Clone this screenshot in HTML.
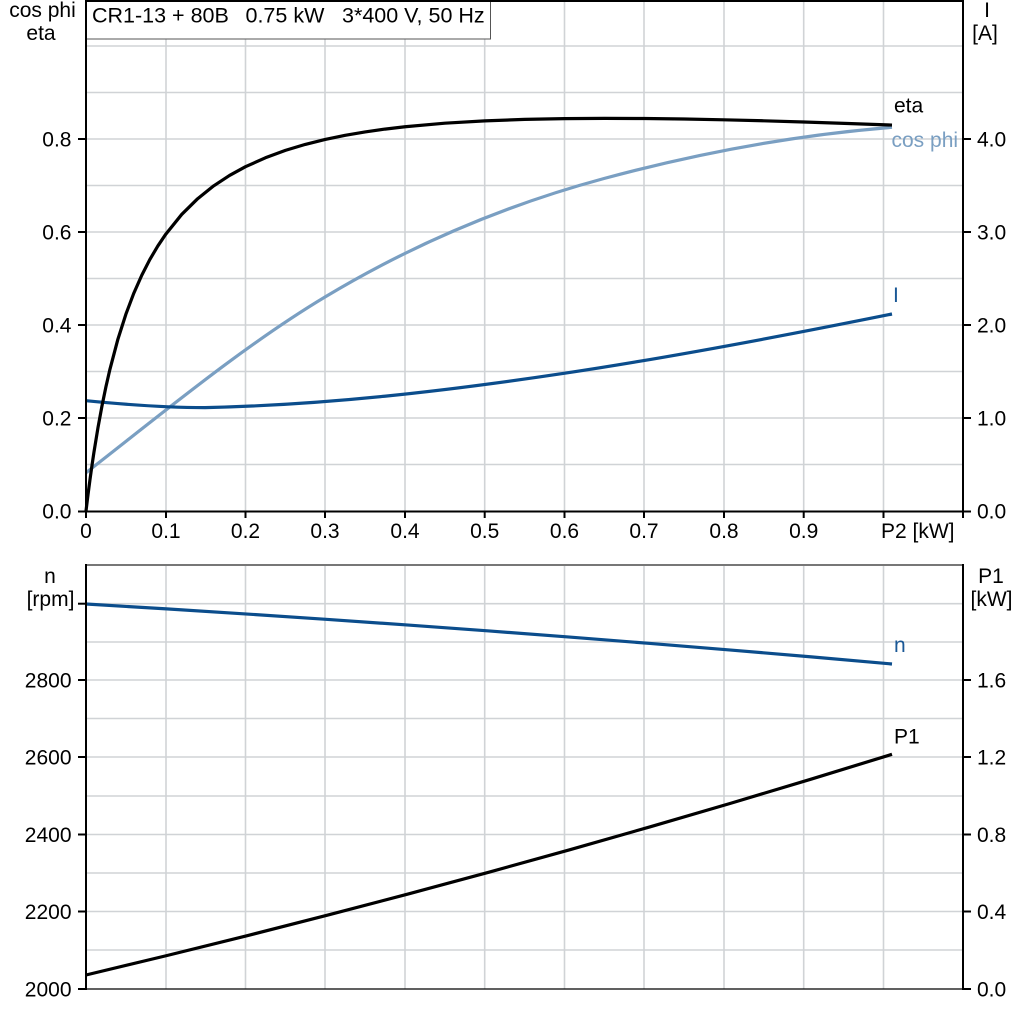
<!DOCTYPE html>
<html>
<head>
<meta charset="utf-8">
<style>
  html, body { margin: 0; padding: 0; background: #ffffff; }
  svg { display: block; }
  text { font-family: "Liberation Sans", Arial, sans-serif; font-size: 21px; fill: #000; }
</style>
</head>
<body>
<svg width="1024" height="1024" viewBox="0 0 1024 1024" xmlns="http://www.w3.org/2000/svg">
  <rect x="0" y="0" width="1024" height="1024" fill="#ffffff"/>

  <!-- ================= TOP CHART ================= -->
  <g stroke="#d0d3d6" stroke-width="1.6" fill="none">
    <line x1="86" y1="46" x2="963" y2="46"/>
    <line x1="86" y1="92.5" x2="963" y2="92.5"/>
    <line x1="86" y1="139" x2="963" y2="139"/>
    <line x1="86" y1="185.5" x2="963" y2="185.5"/>
    <line x1="86" y1="232" x2="963" y2="232"/>
    <line x1="86" y1="278.5" x2="963" y2="278.5"/>
    <line x1="86" y1="325" x2="963" y2="325"/>
    <line x1="86" y1="371.5" x2="963" y2="371.5"/>
    <line x1="86" y1="418" x2="963" y2="418"/>
    <line x1="86" y1="464.5" x2="963" y2="464.5"/>
    <line x1="166" y1="0" x2="166" y2="511"/>
    <line x1="245.5" y1="0" x2="245.5" y2="511"/>
    <line x1="325" y1="0" x2="325" y2="511"/>
    <line x1="405" y1="0" x2="405" y2="511"/>
    <line x1="484.7" y1="0" x2="484.7" y2="511"/>
    <line x1="564.5" y1="0" x2="564.5" y2="511"/>
    <line x1="644" y1="0" x2="644" y2="511"/>
    <line x1="724" y1="0" x2="724" y2="511"/>
    <line x1="803.7" y1="0" x2="803.7" y2="511"/>
    <line x1="883.5" y1="0" x2="883.5" y2="511"/>
  </g>

  <!-- title box -->
  <rect x="86" y="0.5" width="404.5" height="38.5" fill="#ffffff" stroke="#555" stroke-width="1"/>
  <text x="92" y="22.5" style="font-size:21.5px">CR1-13 + 80B</text>
  <text x="245.5" y="22.5" style="font-size:21.5px">0.75 kW</text>
  <text x="342" y="22.5" style="font-size:21.5px">3*400 V, 50 Hz</text>

  <!-- curves top -->
  <path fill="none" stroke="#7a9fc2" stroke-width="3.2"
    d="M86,472.7 C166,410.3 245,345 325,297 C418,241.2 511,203.6 604,178.5 C700,152.6 796,135 892,127.3"/>
  <path fill="none" stroke="#0b4d8c" stroke-width="3.2"
    d="M86,400.7 C126,404.7 165,407.6 205,407.6 C325,405 444,391.3 564,373.3 C673,357 783,336 892,314"/>
  <polyline fill="none" stroke="#000" stroke-width="3.2" stroke-linejoin="round"
    points="86,511 87.99,494.75 89.99,479.58 91.98,465.37 93.98,452.04 97.96,427.71 101.95,406.07 105.94,386.71 109.93,369.29 117.9,339.22 125.88,314.22 133.85,293.12 141.83,275.11 149.8,259.58 157.78,246.06 165.75,234.2 181.7,214.44 197.65,198.69 213.6,185.93 229.55,175.43 245.5,166.7 265.4,157.8 285.38,150.4 305.3,144.4 325.25,139.47 345.2,135.3 365.13,131.96 385,129.1 405,126.76 444.88,123.2 484.75,120.85 524.6,119.4 564.5,118.6 604.4,118.4 644.25,118.52 684.1,119 724,119.8 763.9,120.8 803.75,121.97 848,123.5 892,125.05"/>

  <!-- top axes -->
  <g stroke="#000" stroke-width="2" fill="none">
    <line x1="86" y1="1" x2="963" y2="1"/>
    <line x1="86" y1="0" x2="86" y2="512"/>
    <line x1="963" y1="0" x2="963" y2="518"/>
    <line x1="78" y1="511.5" x2="963" y2="511.5"/>
    <line x1="78" y1="139" x2="86" y2="139"/>
    <line x1="78" y1="232" x2="86" y2="232"/>
    <line x1="78" y1="325" x2="86" y2="325"/>
    <line x1="78" y1="418" x2="86" y2="418"/>
    <line x1="963" y1="139" x2="971" y2="139"/>
    <line x1="963" y1="232" x2="971" y2="232"/>
    <line x1="963" y1="325" x2="971" y2="325"/>
    <line x1="963" y1="418" x2="971" y2="418"/>
    <line x1="963" y1="511.5" x2="971" y2="511.5"/>
    <line x1="86" y1="511" x2="86" y2="518"/>
    <line x1="166" y1="511" x2="166" y2="518"/>
    <line x1="245.5" y1="511" x2="245.5" y2="518"/>
    <line x1="325" y1="511" x2="325" y2="518"/>
    <line x1="405" y1="511" x2="405" y2="518"/>
    <line x1="484.7" y1="511" x2="484.7" y2="518"/>
    <line x1="564.5" y1="511" x2="564.5" y2="518"/>
    <line x1="644" y1="511" x2="644" y2="518"/>
    <line x1="724" y1="511" x2="724" y2="518"/>
    <line x1="803.7" y1="511" x2="803.7" y2="518"/>
    <line x1="883.5" y1="511" x2="883.5" y2="518"/>
  </g>

  <!-- top axis labels -->
  <text x="42.5" y="17" text-anchor="middle">cos phi</text>
  <text x="41" y="40" text-anchor="middle">eta</text>
  <text x="987" y="17" text-anchor="middle">I</text>
  <text x="985" y="40" text-anchor="middle">[A]</text>

  <g text-anchor="end">
    <text x="71.5" y="146.5">0.8</text>
    <text x="71.5" y="239.5">0.6</text>
    <text x="71.5" y="332.5">0.4</text>
    <text x="71.5" y="425.5">0.2</text>
    <text x="71.5" y="518.5">0.0</text>
  </g>
  <g>
    <text x="977" y="146.5">4.0</text>
    <text x="977" y="239.5">3.0</text>
    <text x="977" y="332.5">2.0</text>
    <text x="977" y="425.5">1.0</text>
    <text x="977" y="518.5">0.0</text>
  </g>
  <g text-anchor="middle">
    <text x="86" y="538">0</text>
    <text x="166" y="538">0.1</text>
    <text x="245.5" y="538">0.2</text>
    <text x="325" y="538">0.3</text>
    <text x="405" y="538">0.4</text>
    <text x="484.7" y="538">0.5</text>
    <text x="564.5" y="538">0.6</text>
    <text x="644" y="538">0.7</text>
    <text x="724" y="538">0.8</text>
    <text x="803.7" y="538">0.9</text>
  </g>
  <text x="881" y="538">P2 [kW]</text>

  <!-- curve labels top -->
  <text x="894" y="112.5">eta</text>
  <text x="891.5" y="147" style="fill:#7a9fc2">cos phi</text>
  <text x="893" y="302" style="fill:#1a5896">I</text>

  <!-- ================= BOTTOM CHART ================= -->
  <g stroke="#d0d3d6" stroke-width="1.6" fill="none">
    <line x1="86" y1="603.7" x2="963" y2="603.7"/>
    <line x1="86" y1="642" x2="963" y2="642"/>
    <line x1="86" y1="680" x2="963" y2="680"/>
    <line x1="86" y1="718.5" x2="963" y2="718.5"/>
    <line x1="86" y1="757" x2="963" y2="757"/>
    <line x1="86" y1="796" x2="963" y2="796"/>
    <line x1="86" y1="834.5" x2="963" y2="834.5"/>
    <line x1="86" y1="873" x2="963" y2="873"/>
    <line x1="86" y1="911.5" x2="963" y2="911.5"/>
    <line x1="86" y1="950" x2="963" y2="950"/>
    <line x1="166" y1="565" x2="166" y2="989"/>
    <line x1="245.5" y1="565" x2="245.5" y2="989"/>
    <line x1="325" y1="565" x2="325" y2="989"/>
    <line x1="405" y1="565" x2="405" y2="989"/>
    <line x1="484.7" y1="565" x2="484.7" y2="989"/>
    <line x1="564.5" y1="565" x2="564.5" y2="989"/>
    <line x1="644" y1="565" x2="644" y2="989"/>
    <line x1="724" y1="565" x2="724" y2="989"/>
    <line x1="803.7" y1="565" x2="803.7" y2="989"/>
    <line x1="883.5" y1="565" x2="883.5" y2="989"/>
  </g>

  <!-- curves bottom -->
  <polyline fill="none" stroke="#0b4d8c" stroke-width="3.2" stroke-linejoin="round"
    points="86,604 166.6,608.9 247.2,614.05 327.8,619.44 408.4,625.07 489,630.95 569.6,637.07 650.2,643.44 730.8,650.05 811.4,656.9 892,664"/>
  <polyline fill="none" stroke="#000" stroke-width="3.2" stroke-linejoin="round"
    points="86,975 166.6,955.63 247.2,935.66 327.8,915.09 408.4,893.92 489,872.15 569.6,849.78 650.2,826.81 730.8,803.24 811.4,779.07 892,754.3"/>

  <!-- bottom axes -->
  <line x1="86" y1="565" x2="963" y2="565" stroke="#777" stroke-width="2"/>
  <g stroke="#000" stroke-width="2" fill="none">
    <line x1="86" y1="564" x2="86" y2="990"/>
    <line x1="963" y1="564" x2="963" y2="990"/>
    <line x1="78" y1="603.7" x2="86" y2="603.7"/>
    <line x1="78" y1="680" x2="86" y2="680"/>
    <line x1="78" y1="757" x2="86" y2="757"/>
    <line x1="78" y1="834.5" x2="86" y2="834.5"/>
    <line x1="78" y1="911.5" x2="86" y2="911.5"/>
    <line x1="78" y1="989" x2="86" y2="989"/>
    <line x1="963" y1="680" x2="971" y2="680"/>
    <line x1="963" y1="757" x2="971" y2="757"/>
    <line x1="963" y1="834.5" x2="971" y2="834.5"/>
    <line x1="963" y1="911.5" x2="971" y2="911.5"/>
    <line x1="963" y1="989" x2="971" y2="989"/>
  </g>
  <line x1="86" y1="989" x2="963" y2="989" stroke="#000" stroke-width="1.2"/>

  <!-- bottom labels -->
  <text x="50" y="583" text-anchor="middle">n</text>
  <text x="50.5" y="606" text-anchor="middle">[rpm]</text>
  <text x="991" y="583" text-anchor="middle">P1</text>
  <text x="991.5" y="606" text-anchor="middle">[kW]</text>

  <g text-anchor="end">
    <text x="71.5" y="687.5">2800</text>
    <text x="71.5" y="764.5">2600</text>
    <text x="71.5" y="842">2400</text>
    <text x="71.5" y="919">2200</text>
    <text x="71.5" y="996.5">2000</text>
  </g>
  <g>
    <text x="977" y="687.5">1.6</text>
    <text x="977" y="764.5">1.2</text>
    <text x="977" y="842">0.8</text>
    <text x="977" y="919">0.4</text>
    <text x="977" y="996.5">0.0</text>
  </g>

  <text x="894" y="652" style="fill:#1a5896">n</text>
  <text x="894" y="743.5">P1</text>
</svg>
</body>
</html>
